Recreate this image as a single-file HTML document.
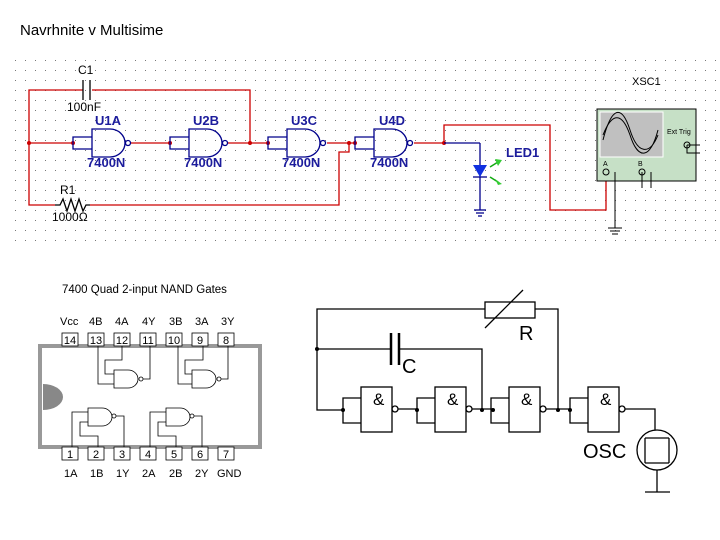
<!DOCTYPE html>
<html><head><meta charset="utf-8"><style>
body{margin:0;background:#fff;width:720px;height:540px;overflow:hidden}
svg{display:block}
text{font-family:"Liberation Sans",sans-serif}
</style></head><body>
<svg width="720" height="540" viewBox="0 0 720 540" xmlns="http://www.w3.org/2000/svg">
<defs>
<pattern id="dots" x="15" y="60" width="10" height="10" patternUnits="userSpaceOnUse">
<rect x="0" y="0" width="1" height="1" fill="#777"/>
</pattern>
</defs>
<text x="20" y="35" font-size="15" fill="#000">Navrhnite v Multisime</text>
<rect x="15" y="60" width="702" height="186" fill="url(#dots)"/>

<g stroke="#c00" stroke-width="1.3" fill="none">
<polyline points="83,90 29,90 29,205 55,205"/>
<polyline points="92,90 250,90 250,143"/>
<line x1="29" y1="143" x2="73" y2="143"/>
<line x1="131" y1="143" x2="170" y2="143"/>
<line x1="228" y1="143" x2="268" y2="143"/>
<line x1="327" y1="143" x2="355" y2="143"/>
<polyline points="90,205 339,205 339,152 349,152 349,143"/>
<line x1="414" y1="143" x2="444" y2="143"/>
<polyline points="444,143 444,125 550,125 550,210 606,210 606,172"/>
</g>
<g stroke="#000" stroke-width="1.3" fill="none">
<line x1="83" y1="80" x2="83" y2="100"/><line x1="90" y1="80" x2="90" y2="100"/>
<polyline points="55,205 60,205 63,199 67,211 71,199 75,211 79,199 83,211 86,205 90,205"/>
</g>
<g fill="#c00"><circle cx="29" cy="143" r="2"/><circle cx="73" cy="143" r="2"/><circle cx="170" cy="143" r="2"/><circle cx="250" cy="143" r="2"/><circle cx="268" cy="143" r="2"/><circle cx="349" cy="143" r="2"/><circle cx="355" cy="143" r="2"/><circle cx="444" cy="143" r="2"/></g>
<g stroke="#00008b" stroke-width="1.3" fill="none">
<g id="g1"><polyline points="92,137 73,137 73,149 92,149"/><path d="M92,129 H110 A15,14 0 0 1 110,157 H92 Z"/><circle cx="128" cy="143" r="2.5"/></g>
<use href="#g1" x="97"/><use href="#g1" x="195"/><use href="#g1" x="282"/>
<line x1="444" y1="143" x2="480" y2="143"/>
<polyline points="480,143 480,210"/>
<line x1="474" y1="210" x2="486" y2="210"/><line x1="476" y1="213" x2="484" y2="213"/><line x1="478" y1="216" x2="482" y2="216"/>
<line x1="473" y1="177" x2="487" y2="177"/>
</g>
<polygon points="473,165 487,165 480,177" fill="#1030e0"/>
<g stroke="#1a1" stroke-width="1.5"><line x1="490" y1="167" x2="498" y2="162"/><line x1="490" y1="177" x2="498" y2="182"/></g>
<polygon points="495,159 502,160 498,166" fill="#3c3"/><polygon points="495,179 502,184 498,185" fill="#3c3"/>
<g font-size="13" fill="#1c1c9c" font-weight="bold">
<text x="95" y="125">U1A</text><text x="193" y="125">U2B</text><text x="291" y="125">U3C</text><text x="379" y="125">U4D</text>
<text x="87" y="167">7400N</text><text x="184" y="167">7400N</text><text x="282" y="167">7400N</text><text x="370" y="167">7400N</text>
<text x="506" y="157">LED1</text>
</g>
<g font-size="12" fill="#000"><text x="78" y="74">C1</text><text x="67" y="111">100nF</text><text x="60" y="194">R1</text><text x="52" y="221">1000Ω</text><text x="632" y="85" font-size="11">XSC1</text></g>
<rect x="597" y="109" width="99" height="72" fill="#c6e0c6" stroke="#000"/>
<rect x="600" y="112" width="63" height="45" fill="#c0c0c0" stroke="#fff"/>
<path d="M603,140 C612,105 622,105 630,130 C638,155 650,155 658,135" stroke="#000" fill="none"/>
<path d="M603,135 C612,112 622,112 630,135 C638,160 650,160 658,130" stroke="#000" fill="none"/>
<text x="667" y="134" font-size="7">Ext Trig</text>
<text x="603" y="166" font-size="7">A</text><text x="638" y="166" font-size="7">B</text>
<g stroke="#000" fill="none"><circle cx="606" cy="172" r="3"/><circle cx="642" cy="172" r="3"/><circle cx="687" cy="145" r="3"/>
<polyline points="615,172 615,228"/><line x1="608" y1="228" x2="622" y2="228"/><line x1="610" y1="231" x2="620" y2="231"/><line x1="612" y1="234" x2="618" y2="234"/>
<polyline points="642,172 642,188"/><polyline points="651,172 651,188"/><polyline points="687,145 700,145"/><polyline points="687,145 687,153 700,153"/></g>

<text x="62" y="293" font-size="11.5">7400 Quad 2-input NAND Gates</text>
<rect x="40" y="346" width="220" height="101" fill="#fff" stroke="#999" stroke-width="4"/>
<path d="M43,384 A20,13 0 0 1 43,410" fill="#888"/>
<g font-size="11" fill="#000">
<text x="60" y="325">Vcc</text><text x="89" y="325">4B</text><text x="115" y="325">4A</text><text x="142" y="325">4Y</text><text x="169" y="325">3B</text><text x="195" y="325">3A</text><text x="221" y="325">3Y</text>
<text x="64" y="477">1A</text><text x="90" y="477">1B</text><text x="116" y="477">1Y</text><text x="142" y="477">2A</text><text x="169" y="477">2B</text><text x="195" y="477">2Y</text><text x="217" y="477">GND</text>
</g>
<g stroke="#000" fill="#fff" stroke-width="0.8">
<rect x="62" y="333" width="16" height="13"/><rect x="88" y="333" width="16" height="13"/><rect x="114" y="333" width="16" height="13"/><rect x="140" y="333" width="16" height="13"/><rect x="166" y="333" width="16" height="13"/><rect x="192" y="333" width="16" height="13"/><rect x="218" y="333" width="16" height="13"/>
<rect x="62" y="447" width="16" height="13"/><rect x="88" y="447" width="16" height="13"/><rect x="114" y="447" width="16" height="13"/><rect x="140" y="447" width="16" height="13"/><rect x="166" y="447" width="16" height="13"/><rect x="192" y="447" width="16" height="13"/><rect x="218" y="447" width="16" height="13"/>
</g>
<g font-size="11" text-anchor="middle">
<text x="70" y="344">14</text><text x="96" y="344">13</text><text x="122" y="344">12</text><text x="148" y="344">11</text><text x="174" y="344">10</text><text x="200" y="344">9</text><text x="226" y="344">8</text>
<text x="70" y="458">1</text><text x="96" y="458">2</text><text x="122" y="458">3</text><text x="148" y="458">4</text><text x="174" y="458">5</text><text x="200" y="458">6</text><text x="226" y="458">7</text>
</g>
<g stroke="#000" fill="none" stroke-width="0.8">
<path d="M114,370 H128 A10,9 0 0 1 128,388 H114 Z"/><circle cx="141" cy="379" r="2"/><polyline points="143,379 150,379 150,346"/>
<polyline points="114,384 98,384 98,346"/><polyline points="114,374 105,374 105,360 122,360 122,346"/>
<path d="M192,370 H206 A10,9 0 0 1 206,388 H192 Z"/><circle cx="219" cy="379" r="2"/><polyline points="221,379 228,379 228,346"/>
<polyline points="192,384 178,384 178,346"/><polyline points="192,374 185,374 185,360 203,360 203,346"/>
<path d="M88,408 H102 A10,9 0 0 1 102,426 H88 Z"/><circle cx="114" cy="416" r="2"/><polyline points="116,416 124,416 124,447"/>
<polyline points="88,412 72,412 72,447"/><polyline points="88,422 80,422 80,436 98,436 98,447"/>
<path d="M166,408 H180 A10,9 0 0 1 180,426 H166 Z"/><circle cx="192" cy="416" r="2"/><polyline points="194,416 202,416 202,447"/>
<polyline points="166,412 150,412 150,447"/><polyline points="166,422 158,422 158,436 176,436 176,447"/>
</g>

<g stroke="#000" fill="none" stroke-width="1.3">
<polyline points="485,309 317,309 317,410 343,410"/>
<polyline points="535,309 558,309 558,410"/>
<rect x="485" y="302" width="50" height="16" fill="#fff"/>
<line x1="485" y1="328" x2="523" y2="290"/>
<polyline points="317,349 391,349"/><polyline points="399,349 482,349 482,410"/>
<line x1="391" y1="333" x2="391" y2="365" stroke-width="2.5"/><line x1="399" y1="333" x2="399" y2="365" stroke-width="2.5"/>
<g id="ng"><polyline points="361,398 343,398 343,423 361,423"/><rect x="361" y="387" width="31" height="45" fill="#fff"/><circle cx="395" cy="409" r="3"/></g>
<use href="#ng" x="74"/><use href="#ng" x="148"/><use href="#ng" x="227"/>
<line x1="398" y1="409" x2="417" y2="409"/><line x1="472" y1="409" x2="493" y2="409"/><line x1="546" y1="409" x2="570" y2="409"/>
<polyline points="625,409 655,409 655,430"/>
<circle cx="657" cy="450" r="20"/><line x1="645" y1="438" x2="645" y2="463"/><line x1="669" y1="438" x2="669" y2="463"/>
<line x1="645" y1="438" x2="669" y2="438"/><line x1="645" y1="463" x2="669" y2="463"/>
<polyline points="657,470 657,492"/><line x1="645" y1="492" x2="670" y2="492"/>
</g>
<g fill="#000"><circle cx="317" cy="349" r="2"/><circle cx="343" cy="410" r="2"/><circle cx="417" cy="410" r="2"/><circle cx="482" cy="410" r="2"/><circle cx="493" cy="410" r="2"/><circle cx="558" cy="410" r="2"/><circle cx="570" cy="410" r="2"/></g>
<g font-size="17"><text x="373" y="405">&amp;</text><text x="447" y="405">&amp;</text><text x="521" y="405">&amp;</text><text x="600" y="405">&amp;</text></g>
<text x="519" y="340" font-size="20">R</text><text x="402" y="373" font-size="20">C</text><text x="583" y="458" font-size="20">OSC</text>
</svg>
</body></html>
